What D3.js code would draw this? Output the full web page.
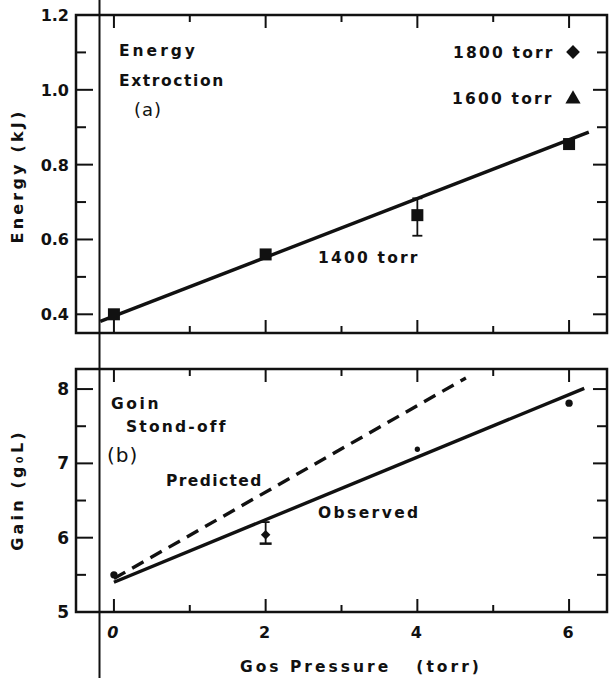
<!DOCTYPE html>
<html>
<head>
<meta charset="utf-8">
<script src="https://cdn.jsdelivr.net/npm/d3@7"></script>
<style>
  body { margin: 0; background: #fff; }
  text { font-family: "DejaVu Sans", sans-serif; fill: #111; }
</style>
</head>
<body>
<script>
// data
const pressure = [0, 2, 4, 6];
const energy = [0.40, 0.56, 0.665, 0.855];
const energyErr = [null, null, [0.61, 0.71], null];
const energyFit = [[-0.18, 0.381], [6.26, 0.887]];
const gain = [5.50, 6.04, 7.19, 7.81];
const gainErr = [null, [5.92, 6.21], null, null];
const gainMarks = ["circle", "diamond", "dot", "circle"];
const observed = [[0, 5.40], [6.2, 8.01]];
const predicted = [[0, 5.45], [4.64, 8.15]];
const energyTicks = ["0.4", "0.6", "0.8", "1.0", "1.2"];
const gainTicks = ["5", "6", "7", "8"];
const xTicks = ["0", "2", "4", "6"];

const W = 609, H = 678;
const svg = d3.select("body").append("svg")
  .attr("width", W).attr("height", H);

const x = d3.scaleLinear().domain([-0.5, 6.5]).range([76, 607]);
const yE = d3.scaleLinear().domain([0.35, 1.2]).range([333, 15]);
const yG = d3.scaleLinear().domain([5, 8.27]).range([612, 369]);

const line = (ys) => d3.line().x(d => x(d[0])).y(d => ys(d[1]));

function frame(ys, minorY, majorY) {
  const [y0, y1] = ys.range();
  const g = svg.append("g");
  g.append("rect")
    .attr("x", x.range()[0]).attr("y", y1)
    .attr("width", x.range()[1] - x.range()[0]).attr("height", y0 - y1)
    .attr("fill", "none").attr("stroke", "#111").attr("stroke-width", 2.5);
  // x ticks top and bottom
  d3.range(0, 7).forEach(v => {
    const len = v % 2 === 0 ? 13 : 7;
    g.append("line").attr("x1", x(v)).attr("x2", x(v))
      .attr("y1", y1).attr("y2", y1 + len)
      .attr("stroke", "#111").attr("stroke-width", 2);
    g.append("line").attr("x1", x(v)).attr("x2", x(v))
      .attr("y1", y0).attr("y2", y0 - len)
      .attr("stroke", "#111").attr("stroke-width", 2);
  });
  // y ticks left and right
  minorY.forEach(v => {
    const major = majorY.includes(v);
    const len = major ? 17 : 10;
    g.append("line").attr("x1", x.range()[0]).attr("x2", x.range()[0] + len)
      .attr("y1", ys(v)).attr("y2", ys(v))
      .attr("stroke", "#111").attr("stroke-width", 2);
    g.append("line").attr("x1", x.range()[1]).attr("x2", x.range()[1] - (major ? 14 : 10))
      .attr("y1", ys(v)).attr("y2", ys(v))
      .attr("stroke", "#111").attr("stroke-width", 2);
  });
}

const eMinor = d3.range(4, 13).map(d => +(d / 10).toFixed(1));
const eMajor = energyTicks.map(Number);
frame(yE, eMinor, eMajor);
const gMinor = d3.range(10, 17).map(d => d / 2);
frame(yG, gMinor, gainTicks.map(Number));

// y tick labels
svg.selectAll(".etl").data(energyTicks).join("text")
  .attr("x", 69).attr("y", d => yE(+d) + 6)
  .attr("text-anchor", "end").attr("font-size", 16).attr("font-weight", "bold")
  .text(d => d);
svg.selectAll(".gtl").data(gainTicks).join("text")
  .attr("x", 69).attr("y", d => yG(+d) + 6)
  .attr("text-anchor", "end").attr("font-size", 17).attr("font-weight", "bold")
  .text(d => d);
// x tick labels
svg.selectAll(".xtl").data(xTicks).join("text")
  .attr("x", d => x(+d) - 1).attr("y", 638)
  .attr("text-anchor", "middle").attr("font-size", 16).attr("font-weight", "bold")
  .attr("font-style", d => d === "0" ? "italic" : "normal")
  .text(d => d);

// the long vertical line running through the whole figure
svg.append("line").attr("x1", 99.5).attr("x2", 99.5).attr("y1", 0).attr("y2", H)
  .attr("stroke", "#111").attr("stroke-width", 2);

// ---- top panel: energy
svg.append("path").datum(energyFit).attr("d", line(yE))
  .attr("fill", "none").attr("stroke", "#111").attr("stroke-width", 3.4);
energyErr.forEach((e, i) => {
  if (!e) return;
  const cx = x(pressure[i]);
  svg.append("line").attr("x1", cx).attr("x2", cx).attr("y1", yE(e[0])).attr("y2", yE(e[1]))
    .attr("stroke", "#111").attr("stroke-width", 1.8);
  e.forEach(v => svg.append("line").attr("x1", cx - 5).attr("x2", cx + 5)
    .attr("y1", yE(v)).attr("y2", yE(v)).attr("stroke", "#111").attr("stroke-width", 1.8));
});
svg.selectAll(".sq").data(pressure).join("rect")
  .attr("x", d => x(d) - 6).attr("y", (d, i) => yE(energy[i]) - 6)
  .attr("width", 12).attr("height", 12).attr("fill", "#111");

// ---- bottom panel: gain
svg.append("path").datum(observed).attr("d", line(yG))
  .attr("fill", "none").attr("stroke", "#111").attr("stroke-width", 3.4);
svg.append("path").datum(predicted).attr("d", line(yG))
  .attr("fill", "none").attr("stroke", "#111").attr("stroke-width", 3.4)
  .attr("stroke-dasharray", "13,8");
gainErr.forEach((e, i) => {
  if (!e) return;
  const cx = x(pressure[i]);
  svg.append("line").attr("x1", cx).attr("x2", cx).attr("y1", yG(e[0])).attr("y2", yG(e[1]))
    .attr("stroke", "#111").attr("stroke-width", 1.8);
  svg.append("line").attr("x1", cx - 6).attr("x2", cx + 6)
    .attr("y1", yG(e[0])).attr("y2", yG(e[0])).attr("stroke", "#111").attr("stroke-width", 2.5);
  svg.append("line").attr("x1", cx - 4).attr("x2", cx + 4)
    .attr("y1", yG(e[1])).attr("y2", yG(e[1])).attr("stroke", "#111").attr("stroke-width", 1.8);
});
const sym = { circle: d3.symbol(d3.symbolCircle, 42), diamond: d3.symbol(d3.symbolSquare, 45), dot: d3.symbol(d3.symbolCircle, 22) };
svg.selectAll(".gp").data(pressure).join("path")
  .attr("transform", (d, i) => `translate(${x(d)},${yG(gain[i])})` + (gainMarks[i] === "diamond" ? " rotate(45)" : ""))
  .attr("d", (d, i) => sym[gainMarks[i]]())
  .attr("fill", "#111");

// ---- annotations
function label(t, px, py, size, spacing, weight) {
  return svg.append("text").attr("x", px).attr("y", py)
    .attr("font-size", size).attr("letter-spacing", spacing)
    .attr("font-weight", weight || "bold").text(t);
}
label("Energy", 119, 56, 15.5, 3);
label("Extroction", 119, 86, 15.5, 1.6);
label("(a)", 134, 116, 18, 1, "normal");
label("1800 torr", 453, 58, 15.5, 2.2);
label("1600 torr", 452, 104, 15.5, 2.2);
label("1400 torr", 318, 263, 15.5, 2.2);
svg.append("path").attr("transform", "translate(573,52) rotate(45)")
  .attr("d", d3.symbol(d3.symbolSquare, 95)()).attr("fill", "#111");
svg.append("path").attr("transform", "translate(573,99)")
  .attr("d", d3.symbol(d3.symbolTriangle, 100)()).attr("fill", "#111");

label("Goin", 111, 409, 15.5, 2.6);
label("Stond-off", 126, 432, 15.5, 2.2);
label("(b)", 107, 462, 20, 1, "normal");
label("Predicted", 166, 486, 15.5, 1.4);
label("Observed", 318, 518, 15.5, 2.4);

// axis titles
svg.append("text").attr("transform", `translate(23,${(yE(0.35) + yE(1.2)) / 2 + 2}) rotate(-90)`)
  .attr("text-anchor", "middle").attr("font-size", 16).attr("font-weight", "bold")
  .attr("letter-spacing", 3.2).text("Energy (kJ)");
svg.append("text").attr("transform", "translate(23,490) rotate(-90)")
  .attr("text-anchor", "middle").attr("font-size", 16).attr("font-weight", "bold")
  .attr("letter-spacing", 3.2).text("Gain (g\u2080L)");

svg.append("text").attr("x", 240).attr("y", 672)
  .attr("font-size", 15.5).attr("font-weight", "bold").attr("letter-spacing", 3)
  .attr("xml:space", "preserve").text("Gos Pressure   (torr)");
</script>
</body>
</html>
